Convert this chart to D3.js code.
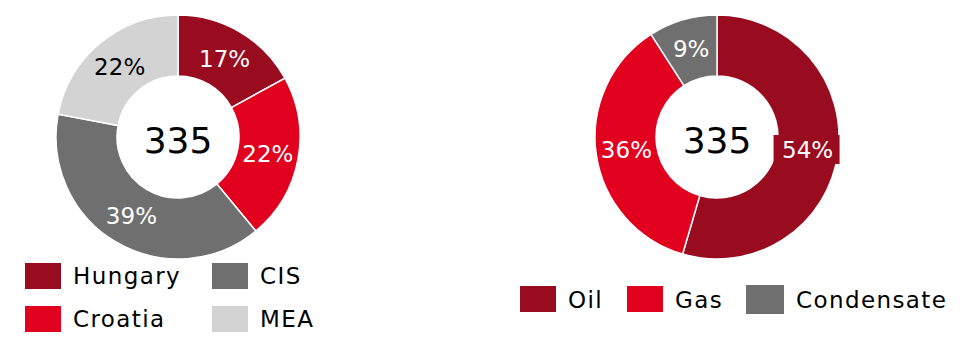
<!doctype html>
<html>
<head>
<meta charset="utf-8">
<title>Donuts</title>
<script src="https://cdn.jsdelivr.net/npm/d3@7"></script>
<style>
    body { margin: 0; background: white; }
    text { font-family: "DejaVu Sans", Lato, sans-serif; }
    .pct { font-size: 23px; fill: white; text-anchor: middle; }
    .total { font-size: 36px; fill: black; text-anchor: middle; }
    .legend text { font-size: 23px; fill: black; letter-spacing: 1.4px; }
</style>
</head>
<body>
<script>
    // left donut: by region
    const regions = ["Hungary", "Croatia", "CIS", "MEA"];
    const regionValues = [17, 22, 39, 22];
    const regionColours = ["#990c1f", "#e1001e", "#6f6f6f", "#d3d3d3"];
    const regionLabelColours = ["white", "white", "white", "black"];

    // right donut: by product
    const products = ["Oil", "Gas", "Condensate"];
    const productValues = [54, 36, 9];
    const productColours = ["#990c1f", "#e1001e", "#6f6f6f"];
    const productLabelColours = ["white", "white", "white"];

    const total = 335;

    const width = 974, height = 347;
    const outerR = 122, innerR = 61;

    const svg = d3.select("body").append("svg")
        .attr("width", width)
        .attr("height", height);

    const pie = d3.pie().sort(null);
    const arc = d3.arc().innerRadius(innerR).outerRadius(outerR);

    function donut(cx, cy, values, colours, labelColours, boxLabel) {
        const g = svg.append("g").attr("transform", `translate(${cx},${cy})`);
        const arcs = pie(values);
        g.selectAll("path")
            .data(arcs)
            .join("path")
            .attr("d", arc)
            .attr("fill", (d, i) => colours[i])
            .attr("stroke", "white")
            .attr("stroke-width", 1.5);

        const labels = g.selectAll("g.lbl")
            .data(arcs)
            .join("g")
            .attr("class", "lbl")
            .attr("transform", d => `translate(${arc.centroid(d)})`);
        // the biggest slice label sits on a filled box in the original
        labels.filter((d, i) => i === boxLabel)
            .append("rect")
            .attr("x", -34).attr("y", -15)
            .attr("width", 66).attr("height", 29)
            .attr("fill", colours[boxLabel]);
        labels.append("text")
            .attr("class", "pct")
            .attr("dy", "0.36em")
            .style("fill", d => labelColours[d.index])
            .text(d => d.value + "%");

        g.append("text")
            .attr("class", "total")
            .attr("y", 3)
            .attr("dy", "0.36em")
            .text(total);
    }

    donut(178, 137, regionValues, regionColours, regionLabelColours, -1);
    donut(717, 137, productValues, productColours, productLabelColours, 0);

    // left legend, two columns
    const leftLegend = svg.append("g").attr("class", "legend");
    const lx = d3.scalePoint().domain([0, 1]).range([25, 212]);
    const ly = d3.scalePoint().domain([0, 1]).range([263, 306]);
    const leftItems = leftLegend.selectAll("g")
        .data(regions)
        .join("g")
        .attr("transform", (d, i) => `translate(${lx(Math.floor(i / 2))},${ly(i % 2)})`);
    leftItems.append("rect")
        .attr("width", 36).attr("height", 26)
        .attr("fill", (d, i) => regionColours[i]);
    leftItems.append("text")
        .attr("x", 48).attr("y", 13).attr("dy", "0.36em")
        .text(d => d);

    // right legend, one row
    const rightLegend = svg.append("g").attr("class", "legend");
    const rx = d3.scaleOrdinal().domain(products).range([520, 627, 746]);
    const rightItems = rightLegend.selectAll("g")
        .data(products)
        .join("g")
        .attr("transform", d => `translate(${rx(d)},286)`);
    rightItems.append("rect")
        .attr("width", (d, i) => i === 2 ? 38 : 36)
        .attr("height", (d, i) => i === 2 ? 29 : 26)
        .attr("y", (d, i) => i === 2 ? -1 : 0)
        .attr("fill", (d, i) => productColours[i]);
    rightItems.append("text")
        .attr("x", (d, i) => i === 2 ? 50 : 48).attr("y", 14).attr("dy", "0.36em")
        .text(d => d);
</script>
</body>
</html>
